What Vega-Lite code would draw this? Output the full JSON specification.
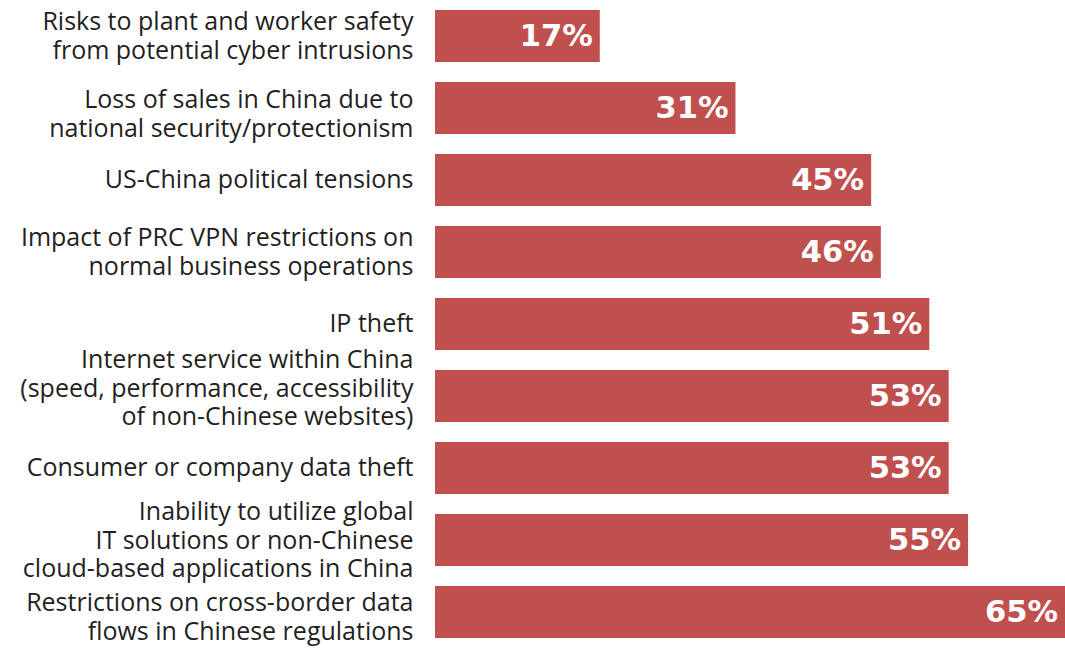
{
  "$schema": "https://vega.github.io/schema/vega-lite/v6.json",
  "width": 630,
  "height": 648,
  "padding": {"left": 435, "top": 0, "right": 0, "bottom": 0},
  "autosize": {"type": "none"},
  "background": "white",
  "config": {"view": {"stroke": null}},
  "data": {
    "values": [
      {"issue": "Risks to plant and worker safety|from potential cyber intrusions", "share": 0.17},
      {"issue": "Loss of sales in China due to|national security/protectionism", "share": 0.31},
      {"issue": "US-China political tensions", "share": 0.45},
      {"issue": "Impact of PRC VPN restrictions on|normal business operations", "share": 0.46},
      {"issue": "IP theft", "share": 0.51},
      {"issue": "Internet service within China|(speed, performance, accessibility|of non-Chinese websites)", "share": 0.53},
      {"issue": "Consumer or company data theft", "share": 0.53},
      {"issue": "Inability to utilize global|IT solutions or non-Chinese|cloud-based applications in China", "share": 0.55},
      {"issue": "Restrictions on cross-border data|flows in Chinese regulations", "share": 0.65}
    ]
  },
  "encoding": {
    "y": {
      "field": "issue",
      "type": "nominal",
      "sort": null,
      "scale": {"paddingInner": 0.278, "paddingOuter": 0.139},
      "axis": {
        "title": null,
        "ticks": false,
        "domain": false,
        "grid": false,
        "labelExpr": "split(datum.label, '|')",
        "labelFont": "Open Sans",
        "labelFontSize": 25,
        "labelColor": "#231f20",
        "labelLineHeight": 28.5,
        "labelPadding": 22,
        "labelLimit": 500,
        "labelBaseline": "middle",
        "labelOffset": {
          "condition": [
            {"test": "indexof(datum.value, 'Internet') == 0", "value": -36},
            {"test": "indexof(datum.value, 'Loss') == 0", "value": -8},
            {"test": "indexof(datum.value, 'Restrictions') == 0", "value": -9},
            {"test": "length(split(datum.value, '|')) == 3", "value": -28},
            {"test": "length(split(datum.value, '|')) == 2", "value": -14}
          ],
          "value": 0
        }
      }
    },
    "x": {
      "field": "share",
      "type": "quantitative",
      "scale": {"domain": [0, 0.65], "nice": false},
      "axis": null
    }
  },
  "layer": [
    {"mark": {"type": "bar", "color": "#c0504e"}},
    {
      "mark": {
        "type": "text",
        "align": "right",
        "baseline": "middle",
        "dx": -7,
        "dy": 1,
        "font": "DejaVu Sans",
        "fontWeight": "bold",
        "fontSize": 30.5,
        "color": "white"
      },
      "encoding": {"text": {"field": "share", "type": "quantitative", "format": ".0%"}}
    }
  ]
}
